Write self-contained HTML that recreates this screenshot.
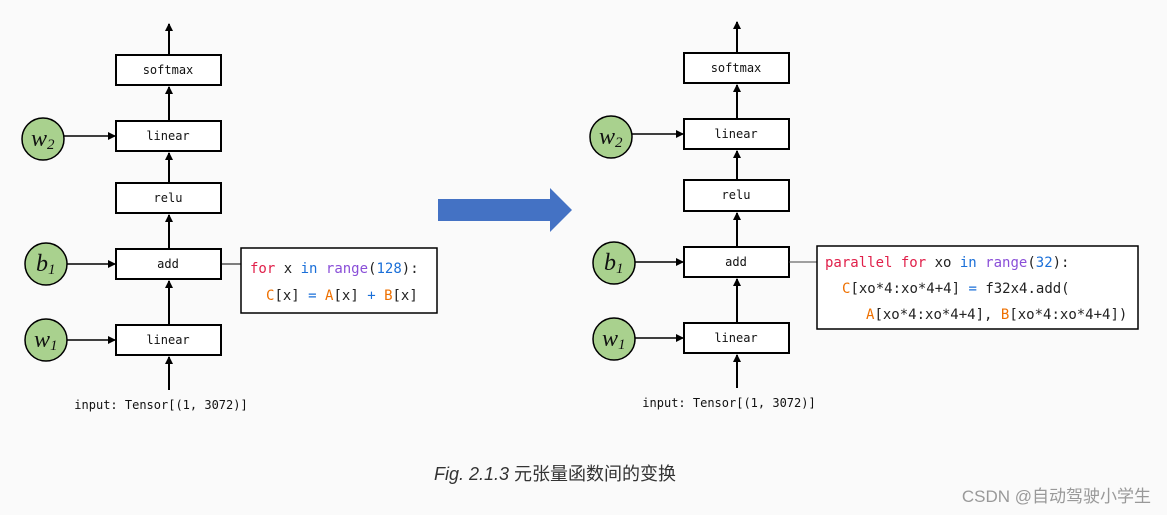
<!DOCTYPE html>
<html><head><meta charset="utf-8"><style>
body{margin:0;background:#fafafa;}
svg{display:block}
.m{font-family:"DejaVu Sans Mono","Liberation Mono",monospace;font-size:12px;fill:#111}
.c{font-family:"DejaVu Sans Mono","Liberation Mono",monospace;font-size:14px;fill:#222}
.v{font-family:"Liberation Serif",serif;font-style:italic;font-size:24px;fill:#111}
.s{font-family:"Liberation Serif",serif;font-size:15px;fill:#111}
</style></head><body>
<svg width="1167" height="515" viewBox="0 0 1167 515" xmlns="http://www.w3.org/2000/svg">
<defs><marker id="a" markerWidth="8" markerHeight="8" refX="7" refY="4" orient="auto" markerUnits="userSpaceOnUse"><path d="M0,0 L8,4 L0,8 z" fill="#000"/></marker></defs>
<rect width="1167" height="515" fill="#fafafa"/>
<!-- LEFT -->
<g stroke="#000" stroke-width="2" fill="#fff">
<rect x="116" y="55" width="105" height="30"/>
<rect x="116" y="121" width="105" height="30"/>
<rect x="116" y="183" width="105" height="30"/>
<rect x="116" y="249" width="105" height="30"/>
<rect x="116" y="325" width="105" height="30"/>
</g>
<g stroke="#000" stroke-width="2" marker-end="url(#a)">
<line x1="169" y1="55" x2="169" y2="24"/>
<line x1="169" y1="121" x2="169" y2="87"/>
<line x1="169" y1="183" x2="169" y2="153"/>
<line x1="169" y1="249" x2="169" y2="215"/>
<line x1="169" y1="325" x2="169" y2="281"/>
<line x1="169" y1="390" x2="169" y2="357"/>
</g>
<g stroke="#000" stroke-width="1.5" marker-end="url(#a)">
<line x1="64" y1="136" x2="115" y2="136"/>
<line x1="67" y1="264" x2="115" y2="264"/>
<line x1="67" y1="340" x2="115" y2="340"/>
</g>
<line x1="221" y1="264" x2="241" y2="264" stroke="#000" stroke-width="1"/>
<g fill="#a9d18e" stroke="#000" stroke-width="1.5">
<circle cx="43" cy="139" r="21"/><circle cx="46" cy="264" r="21"/><circle cx="46" cy="340" r="21"/>
</g>
<text class="v" x="31" y="146">w<tspan class="s" dy="3">2</tspan></text>
<text class="v" x="36" y="271">b<tspan class="s" dy="3">1</tspan></text>
<text class="v" x="34" y="347">w<tspan class="s" dy="3">1</tspan></text>
<g class="m" text-anchor="middle">
<text x="168" y="74">softmax</text><text x="168" y="140">linear</text><text x="168" y="202">relu</text><text x="168" y="268">add</text><text x="168" y="344">linear</text>
</g>
<text class="m" x="161" y="409" text-anchor="middle">input: Tensor[(1, 3072)]</text>
<rect x="241" y="248" width="196" height="65" fill="#fff" stroke="#000" stroke-width="1.5"/>
<text class="c" x="250" y="273"><tspan fill="#e0204a">for</tspan> x <tspan fill="#1a6fd8">in</tspan> <tspan fill="#8a4fd8">range</tspan>(<tspan fill="#1a6fd8">128</tspan>):</text>
<text class="c" x="266" y="300"><tspan fill="#ee7000">C</tspan>[x] <tspan fill="#1a6fd8">=</tspan> <tspan fill="#ee7000">A</tspan>[x] <tspan fill="#1a6fd8">+</tspan> <tspan fill="#ee7000">B</tspan>[x]</text>
<!-- big arrow -->
<polygon points="438,199 550,199 550,188 572,210 550,232 550,221 438,221" fill="#4472c4"/>
<!-- RIGHT -->
<g stroke="#000" stroke-width="2" fill="#fff">
<rect x="684" y="53" width="105" height="30"/>
<rect x="684" y="119" width="105" height="30"/>
<rect x="684" y="180" width="105" height="31"/>
<rect x="684" y="247" width="105" height="30"/>
<rect x="684" y="323" width="105" height="30"/>
</g>
<g stroke="#000" stroke-width="2" marker-end="url(#a)">
<line x1="737" y1="53" x2="737" y2="22"/>
<line x1="737" y1="119" x2="737" y2="85"/>
<line x1="737" y1="180" x2="737" y2="151"/>
<line x1="737" y1="247" x2="737" y2="213"/>
<line x1="737" y1="323" x2="737" y2="279"/>
<line x1="737" y1="388" x2="737" y2="355"/>
</g>
<g stroke="#000" stroke-width="1.5" marker-end="url(#a)">
<line x1="632" y1="134" x2="683" y2="134"/>
<line x1="635" y1="262" x2="683" y2="262"/>
<line x1="635" y1="338" x2="683" y2="338"/>
</g>
<line x1="789" y1="262" x2="817" y2="262" stroke="#444" stroke-width="1"/>
<g fill="#a9d18e" stroke="#000" stroke-width="1.5">
<circle cx="611" cy="137" r="21"/><circle cx="614" cy="263" r="21"/><circle cx="614" cy="339" r="21"/>
</g>
<text class="v" x="599" y="144">w<tspan class="s" dy="3">2</tspan></text>
<text class="v" x="604" y="270">b<tspan class="s" dy="3">1</tspan></text>
<text class="v" x="602" y="346">w<tspan class="s" dy="3">1</tspan></text>
<g class="m" text-anchor="middle">
<text x="736" y="72">softmax</text><text x="736" y="138">linear</text><text x="736" y="199">relu</text><text x="736" y="266">add</text><text x="736" y="342">linear</text>
</g>
<text class="m" x="729" y="407" text-anchor="middle">input: Tensor[(1, 3072)]</text>
<rect x="817" y="246" width="321" height="83" fill="#fff" stroke="#000" stroke-width="1.5"/>
<text class="c" x="825" y="267"><tspan fill="#e0204a">parallel for</tspan> xo <tspan fill="#1a6fd8">in</tspan> <tspan fill="#8a4fd8">range</tspan>(<tspan fill="#1a6fd8">32</tspan>):</text>
<text class="c" x="842" y="293"><tspan fill="#ee7000">C</tspan>[xo*4:xo*4+4] <tspan fill="#1a6fd8">=</tspan> f32x4.add(</text>
<text class="c" x="866" y="319"><tspan fill="#ee7000">A</tspan>[xo*4:xo*4+4], <tspan fill="#ee7000">B</tspan>[xo*4:xo*4+4])</text>
<!-- caption -->
<text x="434" y="480" font-family="Liberation Sans,'Noto Sans CJK SC',sans-serif" font-size="18" fill="#333"><tspan font-style="italic">Fig. 2.1.3</tspan> 元张量函数间的变换</text>
<text x="1151" y="502" text-anchor="end" font-family="Liberation Sans,'Noto Sans CJK SC',sans-serif" font-size="17" fill="#999">CSDN @自动驾驶小学生</text>
</svg>
</body></html>
